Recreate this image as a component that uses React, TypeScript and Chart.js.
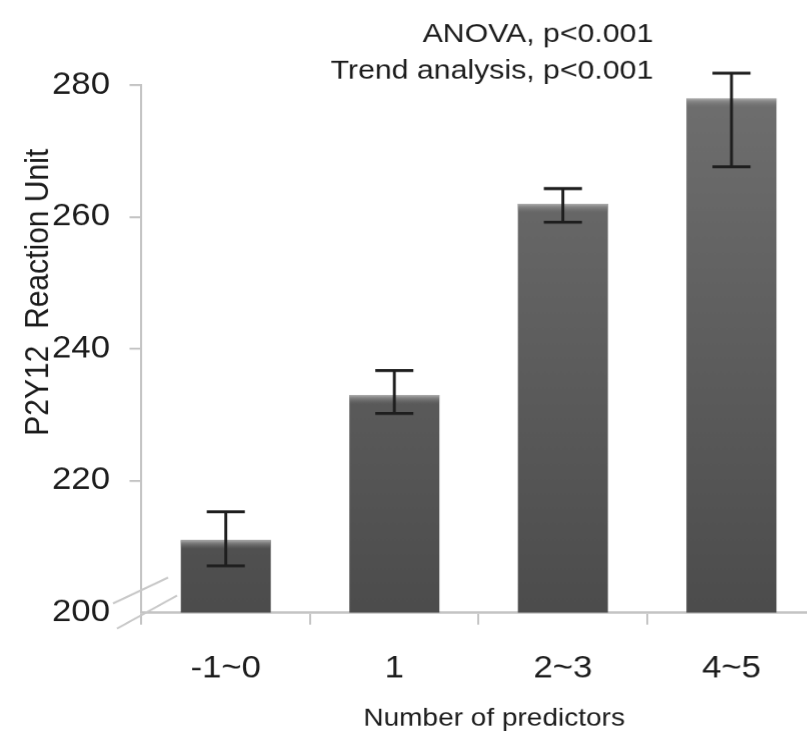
import { useEffect, useRef } from 'react';
import { Chart, registerables } from 'chart.js';

Chart.register(...registerables);

// The figure is drawn on a slightly narrower canvas and widened horizontally,
// which gives its lettering the broad look of the printed figure.
const STRETCH = 1.12;
const CANVAS_W = 728;
const CANVAS_H = 748;
const FONT = '"Liberation Sans", Arial, Helvetica, sans-serif';

const categories = ['-1~0', '1', '2~3', '4~5'];
const meanValues = [211, 233, 262, 278];
const upperValues = [215.3, 236.7, 264.3, 281.8];
const lowerValues = [207.1, 230.2, 259.2, 267.6];
const yTickValues = [200, 220, 240, 260, 280];

const yTitle = 'P2Y12  Reaction Unit';
const xTitle = 'Number of predictors';
const statLines = ['ANOVA, p<0.001', 'Trend analysis, p<0.001'];

const AXIS_GREY = '#c4c4c4';
const TEXT = '#1c1c1c';

const decorations = {
  id: 'figureDecorations',
  afterDatasetsDraw(chart: any) {
    const ctx = chart.ctx;
    const yScale = chart.scales.y;
    const meta = chart.getDatasetMeta(0);
    meta.data.forEach((bar: any, i: number) => {
      const { x, y, width } = bar.getProps(['x', 'y', 'width'], true);
      // soft light band along the top of each bar
      const band = ctx.createLinearGradient(0, y, 0, y + 9);
      band.addColorStop(0, 'rgba(180,180,180,0.95)');
      band.addColorStop(0.35, 'rgba(152,152,152,0.6)');
      band.addColorStop(1, 'rgba(120,120,120,0)');
      ctx.save();
      ctx.fillStyle = band;
      ctx.fillRect(x - width / 2, y, width, 9);
      ctx.restore();

      // error bar
      const yHi = yScale.getPixelForValue(upperValues[i]);
      const yLo = yScale.getPixelForValue(lowerValues[i]);
      const capHalf = 17;
      ctx.save();
      ctx.strokeStyle = '#1e1e1e';
      ctx.lineCap = 'butt';
      ctx.lineWidth = 2.6;
      ctx.beginPath();
      ctx.moveTo(x, yHi);
      ctx.lineTo(x, yLo);
      ctx.stroke();
      ctx.lineWidth = 3;
      ctx.beginPath();
      ctx.moveTo(x - capHalf, yHi);
      ctx.lineTo(x + capHalf, yHi);
      ctx.moveTo(x - capHalf, yLo);
      ctx.lineTo(x + capHalf, yLo);
      ctx.stroke();
      ctx.restore();
    });
  },
  afterDraw(chart: any) {
    const ctx = chart.ctx;
    const area = chart.chartArea;
    const yScale = chart.scales.y;
    const base = yScale.getPixelForValue(yScale.min);

    // axis break marks at the foot of the value axis
    ctx.save();
    ctx.strokeStyle = '#c8c8c8';
    ctx.lineWidth = 2;
    ctx.beginPath();
    ctx.moveTo(area.left - 25.4, base - 9);
    ctx.lineTo(area.left + 23.7, base - 35);
    ctx.moveTo(area.left - 21.9, base + 16);
    ctx.lineTo(area.left + 31.7, base - 17);
    ctx.stroke();
    ctx.restore();

    // value axis title
    ctx.save();
    ctx.fillStyle = TEXT;
    ctx.font = `30px ${FONT}`;
    ctx.translate(42.5, 292);
    ctx.rotate(-Math.PI / 2);
    ctx.textAlign = 'center';
    ctx.textBaseline = 'alphabetic';
    ctx.fillText(yTitle, 0, 0);
    ctx.restore();

    // category axis title
    ctx.save();
    ctx.fillStyle = TEXT;
    ctx.font = `25px ${FONT}`;
    ctx.textAlign = 'center';
    ctx.textBaseline = 'middle';
    ctx.fillText(xTitle, 441, 718);
    ctx.restore();

    // statistics note
    ctx.save();
    ctx.fillStyle = TEXT;
    ctx.font = `27px ${FONT}`;
    ctx.textAlign = 'right';
    ctx.textBaseline = 'alphabetic';
    ctx.fillText(statLines[0], 583, 42);
    ctx.fillText(statLines[1], 583, 79);
    ctx.restore();
  },
};

export default function App() {
  const canvasRef = useRef<HTMLCanvasElement | null>(null);

  useEffect(() => {
    const canvas = canvasRef.current;
    if (!canvas) return;
    const chart = new Chart(canvas, {
      type: 'bar',
      data: {
        labels: categories,
        datasets: [
          {
            data: meanValues,
            backgroundColor: (c: any) => {
              const area = c.chart.chartArea;
              if (!area) return '#5a5a5a';
              const g = c.chart.ctx.createLinearGradient(0, area.top, 0, area.bottom);
              g.addColorStop(0, '#6f6f6f');
              g.addColorStop(1, '#4c4c4c');
              return g;
            },
            borderWidth: 0,
            barPercentage: 0.534,
            categoryPercentage: 1,
          },
        ],
      },
      options: {
        responsive: false,
        devicePixelRatio: STRETCH,
        animation: false,
        events: [],
        layout: { padding: { top: 85, left: 0, right: 0, bottom: 0 } },
        plugins: {
          legend: { display: false },
          tooltip: { enabled: false },
        },
        scales: {
          x: {
            grid: {
              offset: true,
              drawOnChartArea: false,
              drawTicks: true,
              tickLength: 12,
              color: AXIS_GREY,
              lineWidth: 1.8,
            },
            border: { display: true, color: AXIS_GREY, width: 2.5 },
            ticks: {
              font: { family: FONT, size: 31 },
              color: TEXT,
              padding: 26,
              maxRotation: 0,
              autoSkip: false,
            },
            afterFit: (s: any) => {
              s.height = 136;
            },
          },
          y: {
            min: 200,
            max: 280,
            afterBuildTicks: (s: any) => {
              s.ticks = yTickValues.map((v) => ({ value: v }));
            },
            ticks: {
              font: { family: FONT, size: 31 },
              color: TEXT,
              padding: 17.4,
            },
            grid: {
              drawOnChartArea: false,
              drawTicks: true,
              tickLength: 10.7,
              lineWidth: 2,
              color: (c: any) =>
                c.tick && c.tick.value === 200 ? 'rgba(0,0,0,0)' : AXIS_GREY,
            },
            border: { display: true, color: AXIS_GREY, width: 1.8 },
            afterFit: (s: any) => {
              s.width = 126.3;
            },
          },
        },
      },
      plugins: [decorations],
    } as any);
    return () => chart.destroy();
  }, []);

  return (
    <div
      style={{
        position: 'fixed',
        left: 0,
        top: 0,
        width: 807,
        height: 748,
        overflow: 'hidden',
        background: '#ffffff',
      }}
    >
      <div
        style={{
          width: CANVAS_W,
          height: CANVAS_H,
          transform: `scaleX(${STRETCH})`,
          transformOrigin: '0 0',
        }}
      >
        <canvas
          ref={canvasRef}
          width={CANVAS_W}
          height={CANVAS_H}
          style={{ width: `${CANVAS_W}px`, height: `${CANVAS_H}px`, display: 'block' }}
        />
      </div>
    </div>
  );
}
